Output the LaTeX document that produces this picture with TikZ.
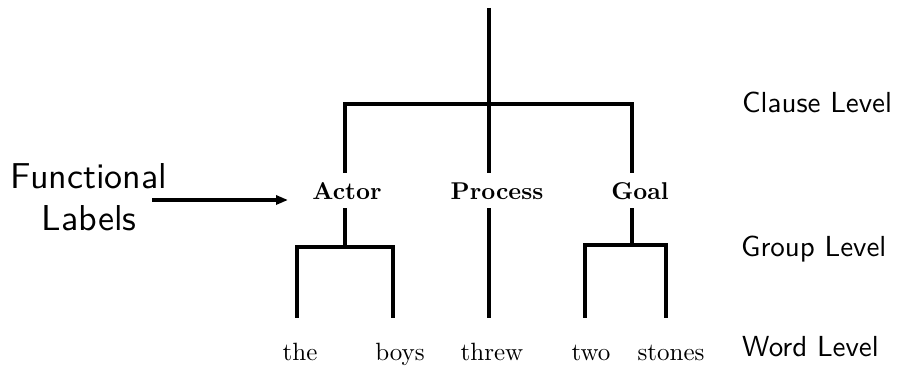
\documentclass[tikz,border=0pt]{standalone}
\usetikzlibrary{arrows.meta}
% Latin Modern at fixed optical size 10, set large
\DeclareFontFamily{TU}{lmssten}{}
\DeclareFontShape{TU}{lmssten}{m}{n}{<-> "[lmsans10-regular]:+tlig;"}{}
\DeclareFontFamily{TU}{lmrten}{}
\DeclareFontShape{TU}{lmrten}{m}{n}{<-> "[lmroman10-regular]:+tlig;"}{}
\DeclareFontShape{TU}{lmrten}{b}{n}{<-> "[lmroman10-bold]:+tlig;"}{}
\newcommand{\levelfont}{\fontfamily{lmssten}\fontseries{m}\fontsize{29}{34}\selectfont}
\newcommand{\funcfont}{\fontfamily{lmssten}\fontseries{m}\fontsize{36}{42}\selectfont}
\newcommand{\rolefont}{\fontfamily{lmrten}\fontseries{b}\fontsize{24.3}{28}\selectfont}
\newcommand{\wordfont}{\fontfamily{lmrten}\fontseries{m}\fontsize{25}{28}\selectfont}
\begin{document}
\begin{tikzpicture}[x=1pt,y=-1pt,
  tree/.style={line width=3.7pt,line join=miter,line cap=butt},
  role/.style={font=\rolefont,inner sep=0pt,anchor=base,text height=27pt,text depth=8pt},
  word/.style={font=\wordfont,inner sep=0pt,anchor=base,text height=42pt,text depth=6pt},
  level/.style={font=\levelfont,inner sep=0pt,anchor=base west},
  pointer/.style={line width=3.2pt,-{Triangle[length=12pt,width=9pt]}}]
\useasboundingbox (0,0) rectangle (902,366);

% functional roles
\node[role] (actor)   at (347,200) {Actor};
\node[role] (process) at (497,200) {Process};
\node[role] (goal)    at (640,200) {Goal};

% words
\node[word] (the)    at (300,360) {the};
\node[word] (boys)   at (400,360) {boys};
\node[word] (threw)  at (492,360) {threw};
\node[word] (two)    at (591,360) {two};
\node[word] (stones) at (671,360) {stones};

% clause level
\coordinate (root) at (489,8);
\coordinate (cl)   at (489,104);
\coordinate (clA)  at (345,104);
\coordinate (clG)  at (632,104);
\draw[tree] (root) -- (cl);
\draw[tree] (clA |- actor.north) -- (clA) -- (clG) -- (clG |- goal.north);
\draw[tree] (cl) -- (cl |- process.north);

% group level: actor
\coordinate (grA)  at (345,247);
\coordinate (grA1) at (297,247);
\coordinate (grA2) at (393,247);
\draw[tree] (grA |- actor.south) -- (grA);
\draw[tree] (grA1 |- the.north) -- (grA1) -- (grA2) -- (grA2 |- boys.north);

% process straight to its word
\draw[tree] (cl |- process.south) -- (cl |- threw.north);

% group level: goal
\coordinate (grG)  at (632,245);
\coordinate (grG1) at (585,245);
\coordinate (grG2) at (666,245);
\draw[tree] (grG |- goal.south) -- (grG);
\draw[tree] (grG1 |- two.north) -- (grG1) -- (grG2) -- (grG2 |- stones.north);

% level names
\node[level] (clause) at (742,113) {Clause Level};
\node[level] (group)  at (741,256) {Group Level};
\node[level] (wordl)  at (742,356) {Word Level};

% functional labels pointer (base anchor sits on the last line)
\node[font=\funcfont,inner sep=0pt,align=center,anchor=base] (func) at (89,230) {Functional\\Labels};
\coordinate (ptrS) at (152,200);
\coordinate (ptrE) at (288,200);
\draw[pointer] (ptrS) -- (ptrE);
\end{tikzpicture}
\end{document}
